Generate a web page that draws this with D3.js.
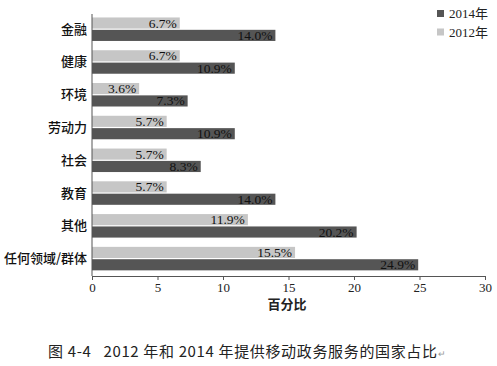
<!DOCTYPE html>
<html>
<head>
<meta charset="utf-8">
<script src="https://cdn.jsdelivr.net/npm/d3@7"></script>
<style>
  body { margin: 0; background: #fff; }
  svg { display: block; }
  .axis path, .axis line { stroke: #555; }
  .axis text { font-family: "Liberation Serif", "Noto Sans CJK SC", serif; font-size: 13px; fill: #222; }
</style>
</head>
<body>
<svg id="chart"></svg>
<script>
const categories = ["金融", "健康", "环境", "劳动力", "社会", "教育", "其他", "任何领域/群体"];
const values2012 = [6.7, 6.7, 3.6, 5.7, 5.7, 5.7, 11.9, 15.5];
const values2014 = [14.0, 10.9, 7.3, 10.9, 8.3, 14.0, 20.2, 24.9];
const seriesNames = ["2012年", "2014年"];
const legendOrder = ["2014年", "2012年"];
const xTicks = [0, 5, 10, 15, 20, 25, 30];
const xTitle = "百分比";
const caption = "图 4-4   2012 年和 2014 年提供移动政务服务的国家占比";

const width = 497, height = 366;
const colors = { "2012年": "#c6c6c6", "2014年": "#555555" };
const serif = '"Liberation Serif", "Noto Sans CJK SC", serif';
const cjk = '"Noto Sans CJK SC", sans-serif';

const svg = d3.select("#chart").attr("width", width).attr("height", height);

const x = d3.scaleLinear().domain([0, 30]).range([92, 485]);
const y0 = d3.scaleBand()
    .domain(categories)
    .range([14, 276])
    .paddingInner(0.283)
    .paddingOuter(0.139)
    .align(0.38);
const y1 = d3.scaleBand()
    .domain(seriesNames)
    .range([0, y0.bandwidth()])
    .paddingInner(0.1);

const rows = categories.map((c, i) => ({
    cat: c,
    bars: [
        { key: "2012年", value: values2012[i] },
        { key: "2014年", value: values2014[i] }
    ]
}));

const group = svg.append("g").selectAll("g")
    .data(rows)
    .enter().append("g")
    .attr("transform", d => `translate(0,${y0(d.cat)})`);

group.selectAll("rect")
    .data(d => d.bars)
    .enter().append("rect")
    .attr("x", x(0))
    .attr("y", d => y1(d.key))
    .attr("width", d => x(d.value) - x(0))
    .attr("height", y1.bandwidth())
    .attr("fill", d => colors[d.key]);

group.selectAll("text")
    .data(d => d.bars)
    .enter().append("text")
    .attr("x", d => x(d.value) - 3)
    .attr("y", d => y1(d.key) + y1.bandwidth() / 2 + 4.5)
    .attr("text-anchor", "end")
    .style("font-family", serif)
    .style("font-size", "13.5px")
    .style("fill", "#111")
    .text(d => d.value.toFixed(1) + "%");

// x axis
svg.append("g")
    .attr("class", "axis")
    .attr("transform", "translate(0,276)")
    .call(d3.axisBottom(x).tickValues(xTicks).tickSize(4).tickPadding(3).tickSizeOuter(0));

// y axis line only
svg.append("line")
    .attr("x1", x(0)).attr("x2", x(0))
    .attr("y1", 14).attr("y2", 276)
    .attr("stroke", "#555");

// category labels
svg.append("g").selectAll("text")
    .data(categories)
    .enter().append("text")
    .attr("x", 87)
    .attr("y", d => y0(d) + y0.bandwidth() / 2 + 4.5)
    .attr("text-anchor", "end")
    .style("font-family", cjk)
    .style("font-size", "13px")
    .style("font-weight", 500)
    .style("fill", "#111")
    .text(d => d);

// axis title
svg.append("text")
    .attr("x", 287)
    .attr("y", 309)
    .attr("text-anchor", "middle")
    .style("font-family", cjk)
    .style("font-size", "13px")
    .style("font-weight", "bold")
    .style("fill", "#222")
    .text(xTitle);

// legend
const legend = svg.append("g").selectAll("g")
    .data(legendOrder)
    .enter().append("g")
    .attr("transform", (d, i) => `translate(437,${10 + i * 18.5})`);
legend.append("rect")
    .attr("width", 7).attr("height", 7)
    .attr("fill", d => colors[d]);
legend.append("text")
    .attr("x", 12)
    .attr("y", 8)
    .style("font-family", serif)
    .style("font-size", "13px")
    .style("fill", "#222")
    .text(d => d);

// caption
const cap = svg.append("text")
    .attr("x", 48)
    .attr("y", 357)
    .attr("xml:space", "preserve")
    .style("white-space", "pre")
    .style("font-family", cjk)
    .style("font-size", "15px")
    .style("fill", "#222");
cap.append("tspan")
    .attr("textLength", 389)
    .attr("lengthAdjust", "spacing")
    .text(caption);
cap.append("tspan")
    .style("font-size", "9px")
    .style("fill", "#999")
    .text("↵");
</script>
</body>
</html>
